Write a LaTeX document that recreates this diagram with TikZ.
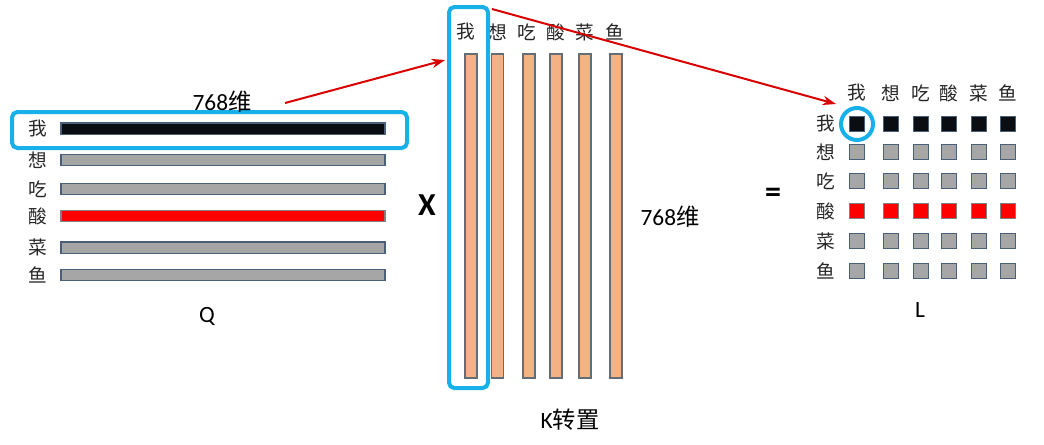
\documentclass[tikz,border=0pt]{standalone}
\usepackage{fontspec}
\setmainfont{Carlito}
\newfontfamily\cjk{Noto Sans CJK SC}
\usetikzlibrary{arrows.meta}
\definecolor{qblue}{RGB}{24,176,232}
\definecolor{korange}{RGB}{244,177,131}
\definecolor{kborder}{RGB}{100,108,118}
\definecolor{gfill}{RGB}{166,166,166}
\definecolor{gborder}{RGB}{75,95,120}
\definecolor{dark}{RGB}{10,14,18}
\tikzset{
  lab/.style={font=\cjk\fontsize{14}{14}\selectfont, inner sep=0pt, text=black!85},
  big/.style={font=\fontsize{17.5}{17.5}\selectfont, inner sep=0pt},
  qbar/.style={draw=gborder, line width=1.1pt, minimum width=243pt, minimum height=8.6pt, inner sep=0pt, fill=gfill},
  kbar/.style={draw=kborder, line width=1.1pt, minimum width=9pt, minimum height=243pt, inner sep=0pt, fill=korange},
  cell/.style={draw=gborder, line width=1.1pt, minimum size=11.5pt, inner sep=0pt, fill=gfill},
  hl/.style={draw=qblue, line width=3pt, rounded corners=4pt},
  redarrow/.style={draw=red!85!black, line width=1.5pt, -{Stealth[length=10pt,width=7pt]}}
}
\begin{document}
\begin{tikzpicture}[x=0.75pt,y=-0.75pt]
\useasboundingbox (0,0) rectangle (1044,444);
% Q
\foreach \n/\c/\y/\f/\d in {a/我/128.5/dark/gborder, b/想/160/gfill/gborder, c/吃/189/gfill/gborder, d/酸/216/red/gray, e/菜/247.5/gfill/gborder, f/鱼/275/gfill/gborder}{
  \node[qbar, fill=\f, draw=\d] (q\n) at (223,\y) {};
  \node[lab] (ql\n) at (38,\y) {\c};
}
\draw[hl] (12,112) rectangle (407,148);
\node[big] (dimq) at (222,102) {768\cjk 维};
\node[big] (Q) at (207,316) {Q};
% K
\foreach \n/\c/\x/\lx in {a/我/471/466, b/想/497.5/498, c/吃/529/527, d/酸/556/556, e/菜/585/585, f/鱼/616/615}{
  \node[kbar] (k\n) at (\x,216) {};
  \node[lab] (kl\n) at (\lx,32) {\c};
}
\draw[hl] (449,7) rectangle (488,388);
\coordinate (kboxleft) at (445,60);
\coordinate (kboxtop) at (492,9);
\node[big] (dimk) at (670,217) {768\cjk 维};
\node[big] (K) at (570,420) {K\cjk 转置};
\node[font=\bfseries\fontsize{24}{24}\selectfont, inner sep=0pt] (times) at (427,205) {X};
\node[font=\bfseries\fontsize{24}{24}\selectfont, inner sep=0pt] (eq) at (773,195) {=};
% L
\foreach \c [count=\i] in {我,想,吃,酸,菜,鱼}{
  \pgfmathsetmacro\xx{{857,891,921,949,979,1008}[\i-1]}
  \pgfmathsetmacro\yy{{124,152,181,211,241,271}[\i-1]}
  \node[lab] (lc\i) at (\xx,93) {\c};
  \node[lab] (lr\i) at (826,\yy) {\c};
}
\foreach \i in {1,...,6}{
  \foreach \j in {1,...,6}{
    \pgfmathsetmacro\xx{{857,891,921,949,979,1008}[\j-1]}
    \pgfmathsetmacro\yy{{124,152,181,211,241,271}[\i-1]}
    \ifnum\i=1
      \node[cell, fill=dark] (m\i\j) at (\xx,\yy) {};
    \else\ifnum\i=4
      \node[cell, fill=red, draw=gray] (m\i\j) at (\xx,\yy) {};
    \else
      \node[cell] (m\i\j) at (\xx,\yy) {};
    \fi\fi
  }
}
\draw[qblue, line width=3pt] (m11) circle (16);
\node[big] (L) at (920,310) {L};
\coordinate (mtip) at (836,104);
% arrows
\draw[redarrow] (285,103) -- (kboxleft);
\draw[redarrow] (kboxtop) -- (mtip);
\end{tikzpicture}
\end{document}
